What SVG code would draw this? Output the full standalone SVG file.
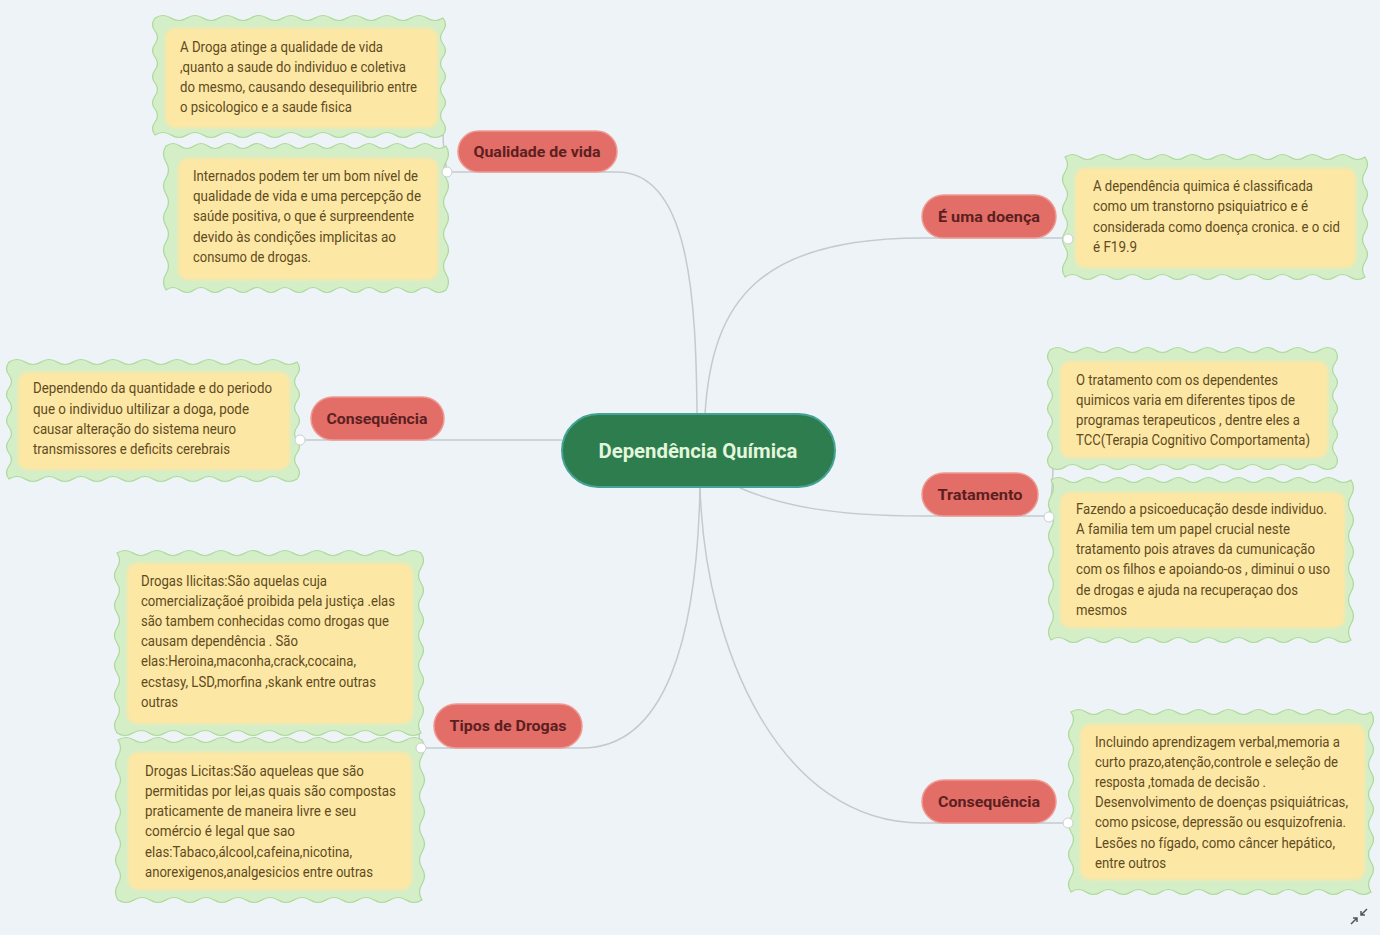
<svg xmlns="http://www.w3.org/2000/svg" width="1380" height="935" viewBox="0 0 1380 935">
<defs>
<style>
.bg{fill:#eef3f7}
.wave{fill:#d4eec7;stroke:#acd99a;stroke-width:1.2}
.inner{fill:#fde7a4}
.d{font-family:Roboto,"Liberation Sans",sans-serif;font-size:14px;fill:#5e4b1f}
.pill{fill:#e36d67;stroke:#ee9a92;stroke-width:1.5}
.pt{font-family:Roboto,"Liberation Sans",sans-serif;font-size:15px;font-weight:bold;fill:#5b1f1f;text-anchor:middle}
.con{fill:none;stroke:#c3cbcf;stroke-width:1.5}
.dot{fill:#ffffff;stroke:#c8d0d4;stroke-width:1}
</style>
<filter id="soft" x="-5%" y="-5%" width="110%" height="110%"><feGaussianBlur stdDeviation="1.5"/></filter>
</defs>
<rect class="bg" x="0" y="0" width="1380" height="935"/>

<g id="connectors">
<path class="con" d="M447 172 L617 172 C690 172 696 300 697 414"/>
<path class="con" d="M1068 238 L922 238 C760 238 712 300 705 414"/>
<path class="con" d="M300 440 L562 440"/>
<path class="con" d="M1049 516 L922 516 C830 516 780 505 740 488"/>
<path class="con" d="M421 748 L582 748 C665 748 697 640 700 487"/>
<path class="con" d="M1068 823 L922 823 C780 823 705 650 700 487"/>
<path class="con" d="M447 172 C444 155 443 142 443 132"/>
<path class="con" d="M1049 516 C1052 495 1053 475 1053 462"/>
<path class="con" d="M421 748 C419 742 419 735 419 728"/>
</g>

<g id="box-qv1">
<path class="wave" d="M155 18 q8 -5 16 0 t16 0 t16 0 t16 0 t16 0 t16 0 t16 0 t16 0 t16 0 t16 0 t16 0 t16 0 t16 0 t16 0 t16 0 t16 0 t16 0 t16 0 q5 6.5 0 13 t0 13 t0 13 t0 13 t0 13 t0 13 t0 13 t0 13 t0 13 q-8 5 -16 0 t-16 0 t-16 0 t-16 0 t-16 0 t-16 0 t-16 0 t-16 0 t-16 0 t-16 0 t-16 0 t-16 0 t-16 0 t-16 0 t-16 0 t-16 0 t-16 0 t-16 0 q-5 -6.5 0 -13 t0 -13 t0 -13 t0 -13 t0 -13 t0 -13 t0 -13 t0 -13 t0 -13 Z"/>
<rect class="inner" x="165" y="28" width="273" height="100" rx="10" filter="url(#soft)"/>
<text class="d" x="180" y="52" textLength="203" lengthAdjust="spacingAndGlyphs">A Droga atinge a qualidade de vida</text>
<text class="d" x="180" y="72" textLength="226" lengthAdjust="spacingAndGlyphs">,quanto a saude do individuo e coletiva</text>
<text class="d" x="180" y="92" textLength="237" lengthAdjust="spacingAndGlyphs">do mesmo, causando desequilibrio entre</text>
<text class="d" x="180" y="112" textLength="172" lengthAdjust="spacingAndGlyphs">o psicologico e a saude fisica</text>
</g>

<g id="box-qv2">
<path class="wave" d="M166 146 q7 -5 14 0 t14 0 t14 0 t14 0 t14 0 t14 0 t14 0 t14 0 t14 0 t14 0 t14 0 t14 0 t14 0 t14 0 t14 0 t14 0 t14 0 t14 0 t14 0 t14 0 q5 8 0 16 t0 16 t0 16 t0 16 t0 16 t0 16 t0 16 t0 16 t0 16 q-7 5 -14 0 t-14 0 t-14 0 t-14 0 t-14 0 t-14 0 t-14 0 t-14 0 t-14 0 t-14 0 t-14 0 t-14 0 t-14 0 t-14 0 t-14 0 t-14 0 t-14 0 t-14 0 t-14 0 t-14 0 q-5 -8 0 -16 t0 -16 t0 -16 t0 -16 t0 -16 t0 -16 t0 -16 t0 -16 t0 -16 Z"/>
<rect class="inner" x="178" y="158" width="260" height="122" rx="10" filter="url(#soft)"/>
<text class="d" x="193" y="181" textLength="225" lengthAdjust="spacingAndGlyphs">Internados podem ter um bom nível de</text>
<text class="d" x="193" y="201" textLength="228" lengthAdjust="spacingAndGlyphs">qualidade de  vida e uma percepção de</text>
<text class="d" x="193" y="221" textLength="221" lengthAdjust="spacingAndGlyphs">saúde positiva, o que é surpreendente</text>
<text class="d" x="193" y="242" textLength="203" lengthAdjust="spacingAndGlyphs">devido  às condições  implicitas ao</text>
<text class="d" x="193" y="262" textLength="118" lengthAdjust="spacingAndGlyphs">consumo de drogas.</text>
</g>

<g id="box-cons-l">
<path class="wave" d="M9 362 q8 -5 16 0 t16 0 t16 0 t16 0 t16 0 t16 0 t16 0 t16 0 t16 0 t16 0 t16 0 t16 0 t16 0 t16 0 t16 0 t16 0 t16 0 t16 0 q5 6.5 0 13 t0 13 t0 13 t0 13 t0 13 t0 13 t0 13 t0 13 t0 13 q-8 5 -16 0 t-16 0 t-16 0 t-16 0 t-16 0 t-16 0 t-16 0 t-16 0 t-16 0 t-16 0 t-16 0 t-16 0 t-16 0 t-16 0 t-16 0 t-16 0 t-16 0 t-16 0 q-5 -6.5 0 -13 t0 -13 t0 -13 t0 -13 t0 -13 t0 -13 t0 -13 t0 -13 t0 -13 Z"/>
<rect class="inner" x="18" y="372" width="272" height="98" rx="10" filter="url(#soft)"/>
<text class="d" x="33" y="393" textLength="239" lengthAdjust="spacingAndGlyphs">Dependendo da quantidade e  do periodo</text>
<text class="d" x="33" y="414" textLength="216" lengthAdjust="spacingAndGlyphs">que o individuo ultilizar a doga,  pode</text>
<text class="d" x="33" y="434" textLength="203" lengthAdjust="spacingAndGlyphs">causar alteração do sistema neuro</text>
<text class="d" x="33" y="454" textLength="197" lengthAdjust="spacingAndGlyphs">transmissores e deficits cerebrais</text>
</g>

<g id="box-tipos1">
<path class="wave" d="M117 553 q8 -5 16 0 t16 0 t16 0 t16 0 t16 0 t16 0 t16 0 t16 0 t16 0 t16 0 t16 0 t16 0 t16 0 t16 0 t16 0 t16 0 t16 0 t16 0 t16 0 q5 7.5 0 15 t0 15 t0 15 t0 15 t0 15 t0 15 t0 15 t0 15 t0 15 t0 15 t0 15 t0 15 q-8 5 -16 0 t-16 0 t-16 0 t-16 0 t-16 0 t-16 0 t-16 0 t-16 0 t-16 0 t-16 0 t-16 0 t-16 0 t-16 0 t-16 0 t-16 0 t-16 0 t-16 0 t-16 0 t-16 0 q-5 -7.5 0 -15 t0 -15 t0 -15 t0 -15 t0 -15 t0 -15 t0 -15 t0 -15 t0 -15 t0 -15 t0 -15 t0 -15 Z"/>
<rect class="inner" x="127" y="563" width="286" height="161" rx="10" filter="url(#soft)"/>
<text class="d" x="141" y="586" textLength="186" lengthAdjust="spacingAndGlyphs">Drogas Ilicitas:São aquelas cuja</text>
<text class="d" x="141" y="606" textLength="254" lengthAdjust="spacingAndGlyphs">comercializaçãoé proibida pela justiça .elas</text>
<text class="d" x="141" y="626" textLength="248" lengthAdjust="spacingAndGlyphs">são tambem conhecidas como drogas que</text>
<text class="d" x="141" y="646" textLength="157" lengthAdjust="spacingAndGlyphs">causam dependência .  São</text>
<text class="d" x="141" y="666" textLength="215" lengthAdjust="spacingAndGlyphs">elas:Heroina,maconha,crack,cocaina,</text>
<text class="d" x="141" y="687" textLength="235" lengthAdjust="spacingAndGlyphs">ecstasy, LSD,morfina ,skank entre outras</text>
<text class="d" x="141" y="707" textLength="37" lengthAdjust="spacingAndGlyphs">outras</text>
</g>

<g id="box-tipos2">
<path class="wave" d="M118 740 q8 -5 16 0 t16 0 t16 0 t16 0 t16 0 t16 0 t16 0 t16 0 t16 0 t16 0 t16 0 t16 0 t16 0 t16 0 t16 0 t16 0 t16 0 t16 0 t16 0 q5 8 0 16 t0 16 t0 16 t0 16 t0 16 t0 16 t0 16 t0 16 t0 16 t0 16 q-8 5 -16 0 t-16 0 t-16 0 t-16 0 t-16 0 t-16 0 t-16 0 t-16 0 t-16 0 t-16 0 t-16 0 t-16 0 t-16 0 t-16 0 t-16 0 t-16 0 t-16 0 t-16 0 t-16 0 q-5 -8 0 -16 t0 -16 t0 -16 t0 -16 t0 -16 t0 -16 t0 -16 t0 -16 t0 -16 t0 -16 Z"/>
<rect class="inner" x="128" y="752" width="284" height="138" rx="10" filter="url(#soft)"/>
<text class="d" x="145" y="776" textLength="219" lengthAdjust="spacingAndGlyphs">Drogas Licitas:São aqueleas que  são</text>
<text class="d" x="145" y="796" textLength="251" lengthAdjust="spacingAndGlyphs">permitidas por lei,as  quais são compostas</text>
<text class="d" x="145" y="816" textLength="211" lengthAdjust="spacingAndGlyphs">praticamente de maneira livre  e seu</text>
<text class="d" x="145" y="836" textLength="150" lengthAdjust="spacingAndGlyphs">comércio é legal  que sao</text>
<text class="d" x="145" y="857" textLength="207" lengthAdjust="spacingAndGlyphs">elas:Tabaco,álcool,cafeina,nicotina,</text>
<text class="d" x="145" y="877" textLength="228" lengthAdjust="spacingAndGlyphs">anorexigenos,analgesicios entre outras</text>
</g>

<g id="box-doenca">
<path class="wave" d="M1065 157 q7.5 -5 15 0 t15 0 t15 0 t15 0 t15 0 t15 0 t15 0 t15 0 t15 0 t15 0 t15 0 t15 0 t15 0 t15 0 t15 0 t15 0 t15 0 t15 0 t15 0 t15 0 q5 7.5 0 15 t0 15 t0 15 t0 15 t0 15 t0 15 t0 15 t0 15 q-7.5 5 -15 0 t-15 0 t-15 0 t-15 0 t-15 0 t-15 0 t-15 0 t-15 0 t-15 0 t-15 0 t-15 0 t-15 0 t-15 0 t-15 0 t-15 0 t-15 0 t-15 0 t-15 0 t-15 0 t-15 0 q-5 -7.5 0 -15 t0 -15 t0 -15 t0 -15 t0 -15 t0 -15 t0 -15 t0 -15 Z"/>
<rect class="inner" x="1075" y="168" width="281" height="100" rx="10" filter="url(#soft)"/>
<text class="d" x="1093" y="191" textLength="220" lengthAdjust="spacingAndGlyphs">A dependência quimica é classificada</text>
<text class="d" x="1093" y="211" textLength="215" lengthAdjust="spacingAndGlyphs">como um transtorno  psiquiatrico e é</text>
<text class="d" x="1093" y="232" textLength="247" lengthAdjust="spacingAndGlyphs">considerada como doença cronica. e o cid</text>
<text class="d" x="1093" y="252" textLength="44" lengthAdjust="spacingAndGlyphs">é F19.9</text>
</g>

<g id="box-trat1">
<path class="wave" d="M1050 350 q7.5 -5 15 0 t15 0 t15 0 t15 0 t15 0 t15 0 t15 0 t15 0 t15 0 t15 0 t15 0 t15 0 t15 0 t15 0 t15 0 t15 0 t15 0 t15 0 t15 0 q5 6.5 0 13 t0 13 t0 13 t0 13 t0 13 t0 13 t0 13 t0 13 t0 13 q-7.5 5 -15 0 t-15 0 t-15 0 t-15 0 t-15 0 t-15 0 t-15 0 t-15 0 t-15 0 t-15 0 t-15 0 t-15 0 t-15 0 t-15 0 t-15 0 t-15 0 t-15 0 t-15 0 t-15 0 q-5 -6.5 0 -13 t0 -13 t0 -13 t0 -13 t0 -13 t0 -13 t0 -13 t0 -13 t0 -13 Z"/>
<rect class="inner" x="1060" y="361" width="268" height="97" rx="10" filter="url(#soft)"/>
<text class="d" x="1076" y="385" textLength="202" lengthAdjust="spacingAndGlyphs">O tratamento com os dependentes</text>
<text class="d" x="1076" y="405" textLength="219" lengthAdjust="spacingAndGlyphs">quimicos varia em diferentes tipos de</text>
<text class="d" x="1076" y="425" textLength="224" lengthAdjust="spacingAndGlyphs">programas terapeuticos , dentre eles a</text>
<text class="d" x="1076" y="445" textLength="234" lengthAdjust="spacingAndGlyphs">TCC(Terapia Cognitivo Comportamenta)</text>
</g>

<g id="box-trat2">
<path class="wave" d="M1051 480 q7.5 -5 15 0 t15 0 t15 0 t15 0 t15 0 t15 0 t15 0 t15 0 t15 0 t15 0 t15 0 t15 0 t15 0 t15 0 t15 0 t15 0 t15 0 t15 0 t15 0 t15 0 q5 8 0 16 t0 16 t0 16 t0 16 t0 16 t0 16 t0 16 t0 16 t0 16 t0 16 q-7.5 5 -15 0 t-15 0 t-15 0 t-15 0 t-15 0 t-15 0 t-15 0 t-15 0 t-15 0 t-15 0 t-15 0 t-15 0 t-15 0 t-15 0 t-15 0 t-15 0 t-15 0 t-15 0 t-15 0 t-15 0 q-5 -8 0 -16 t0 -16 t0 -16 t0 -16 t0 -16 t0 -16 t0 -16 t0 -16 t0 -16 t0 -16 Z"/>
<rect class="inner" x="1060" y="492" width="285" height="136" rx="10" filter="url(#soft)"/>
<text class="d" x="1076" y="514" textLength="251" lengthAdjust="spacingAndGlyphs">Fazendo a psicoeducação desde individuo.</text>
<text class="d" x="1076" y="534" textLength="214" lengthAdjust="spacingAndGlyphs">A familia tem um papel crucial neste</text>
<text class="d" x="1076" y="554" textLength="239" lengthAdjust="spacingAndGlyphs">tratamento pois atraves da cumunicação</text>
<text class="d" x="1076" y="574" textLength="254" lengthAdjust="spacingAndGlyphs">com os filhos e apoiando-os , diminui o uso</text>
<text class="d" x="1076" y="595" textLength="222" lengthAdjust="spacingAndGlyphs">de drogas e ajuda na recuperaçao dos</text>
<text class="d" x="1076" y="615" textLength="51" lengthAdjust="spacingAndGlyphs">mesmos</text>
</g>

<g id="box-cons-r">
<path class="wave" d="M1071 712 q7.5 -5 15 0 t15 0 t15 0 t15 0 t15 0 t15 0 t15 0 t15 0 t15 0 t15 0 t15 0 t15 0 t15 0 t15 0 t15 0 t15 0 t15 0 t15 0 t15 0 t15 0 q5 7.5 0 15 t0 15 t0 15 t0 15 t0 15 t0 15 t0 15 t0 15 t0 15 t0 15 t0 15 t0 15 q-7.5 5 -15 0 t-15 0 t-15 0 t-15 0 t-15 0 t-15 0 t-15 0 t-15 0 t-15 0 t-15 0 t-15 0 t-15 0 t-15 0 t-15 0 t-15 0 t-15 0 t-15 0 t-15 0 t-15 0 t-15 0 q-5 -7.5 0 -15 t0 -15 t0 -15 t0 -15 t0 -15 t0 -15 t0 -15 t0 -15 t0 -15 t0 -15 t0 -15 t0 -15 Z"/>
<rect class="inner" x="1080" y="724" width="285" height="156" rx="10" filter="url(#soft)"/>
<text class="d" x="1095" y="747" textLength="245" lengthAdjust="spacingAndGlyphs">Incluindo aprendizagem verbal,memoria a</text>
<text class="d" x="1095" y="767" textLength="243" lengthAdjust="spacingAndGlyphs">curto prazo,atenção,controle e seleção de</text>
<text class="d" x="1095" y="787" textLength="171" lengthAdjust="spacingAndGlyphs">resposta ,tomada de decisão .</text>
<text class="d" x="1095" y="807" textLength="253" lengthAdjust="spacingAndGlyphs">Desenvolvimento de doenças psiquiátricas,</text>
<text class="d" x="1095" y="827" textLength="251" lengthAdjust="spacingAndGlyphs">como psicose, depressão ou esquizofrenia.</text>
<text class="d" x="1095" y="848" textLength="240" lengthAdjust="spacingAndGlyphs">Lesões no fígado, como câncer hepático,</text>
<text class="d" x="1095" y="868" textLength="71" lengthAdjust="spacingAndGlyphs">entre outros</text>
</g>

<g id="topic-qualidade">
<rect class="pill" x="458" y="131" width="159" height="41" rx="20.5"/>
<text class="pt" x="537" y="157" textLength="127" lengthAdjust="spacingAndGlyphs">Qualidade de vida</text>
</g>
<g id="topic-doenca">
<rect class="pill" x="922" y="195" width="134" height="43" rx="21.5"/>
<text class="pt" x="989" y="222" textLength="102" lengthAdjust="spacingAndGlyphs">É uma doença</text>
</g>
<g id="topic-cons-l">
<rect class="pill" x="311" y="397" width="133" height="43" rx="21.5"/>
<text class="pt" x="377" y="424" textLength="101" lengthAdjust="spacingAndGlyphs">Consequência</text>
</g>
<g id="topic-tratamento">
<rect class="pill" x="922" y="473" width="116" height="43" rx="21.5"/>
<text class="pt" x="980" y="500" textLength="85" lengthAdjust="spacingAndGlyphs">Tratamento</text>
</g>
<g id="topic-tipos">
<rect class="pill" x="434" y="704" width="148" height="44" rx="22"/>
<text class="pt" x="508" y="731" textLength="117" lengthAdjust="spacingAndGlyphs">Tipos de Drogas</text>
</g>
<g id="topic-cons-r">
<rect class="pill" x="922" y="780" width="134" height="43" rx="21.5"/>
<text class="pt" x="989" y="807" textLength="102" lengthAdjust="spacingAndGlyphs">Consequência</text>
</g>

<g id="center">
<rect x="562" y="414" width="273" height="73" rx="36.5" fill="#2e7d4e" stroke="#44a396" stroke-width="2"/>
<text x="698" y="458" font-family="Roboto,'Liberation Sans',sans-serif" font-size="20" font-weight="bold" fill="#e4f6dc" text-anchor="middle" textLength="199" lengthAdjust="spacingAndGlyphs">Dependência Química</text>
</g>

<g id="dots">
<circle class="dot" cx="447" cy="172" r="5"/>
<circle class="dot" cx="300" cy="440" r="5"/>
<circle class="dot" cx="421" cy="748" r="5"/>
<circle class="dot" cx="1068" cy="239" r="5"/>
<circle class="dot" cx="1049" cy="517" r="5"/>
<circle class="dot" cx="1068" cy="823" r="5"/>
</g>

<g id="collapse-icon" fill="none" stroke="#555" stroke-width="1.5">
<path d="M1351 924 L1357 918 M1353 918 L1357 918 L1357 922"/>
<path d="M1367 909 L1361 915 M1365 915 L1361 915 L1361 911"/>
</g>
</svg>
